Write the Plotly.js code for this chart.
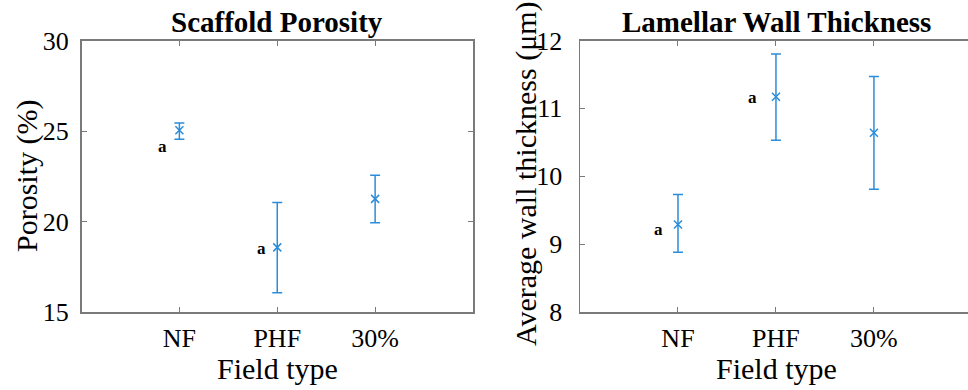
<!DOCTYPE html>
<html>
<head>
<meta charset="utf-8">
<script src="https://cdn.plot.ly/plotly-3.0.1.min.js"></script>
<style>html,body{margin:0;padding:0;background:#fff;}#chart{width:968px;height:390px;}</style>
</head>
<body>
<div id="chart"></div>
<script>
// ---- data ----
const categories = ["NF", "PHF", "30%"];
const catPos = [1, 2, 3];

const porosityMean  = [25.04, 18.57, 21.25];
const porosityUpper = [25.44, 21.05, 22.56];
const porosityLower = [24.54, 16.07, 19.93];

const wallMean  = [9.29, 11.17, 10.64];
const wallUpper = [9.73, 11.80, 11.47];
const wallLower = [8.88, 10.53, 9.81];

const porosityTicks = [15, 20, 25, 30];
const wallTicks = [8, 9, 10, 11, 12];

// ---- style ----
const blue = '#2b8cd9';
const grey = '#7a7a7a';
const serif = 'Liberation Serif';
const W = 968, H = 390;
const px = v => v / W;
const py = v => 1 - v / H;

function errTrace(mean, up, lo, xa, ya) {
  return {
    type: 'scatter', mode: 'markers', x: catPos, y: mean, xaxis: xa, yaxis: ya,
    marker: {symbol: 'x-thin-open', size: 8, color: blue, line: {color: blue, width: 1.5}},
    error_y: {type: 'data', symmetric: false,
      array: up.map((u, i) => u - mean[i]),
      arrayminus: lo.map((l, i) => mean[i] - l),
      color: blue, thickness: 1.5, width: 5},
    showlegend: false, hoverinfo: 'x+y'
  };
}

const data = [
  errTrace(porosityMean, porosityUpper, porosityLower, 'x', 'y'),
  errTrace(wallMean, wallUpper, wallLower, 'x2', 'y2')
];

const axCommon = {
  showline: true, linecolor: grey, linewidth: 1.5,
  ticks: 'inside', ticklen: 5, tickcolor: grey, tickwidth: 1,
  showgrid: false, zeroline: false, fixedrange: true,
  tickfont: {family: serif, size: 26, color: '#000'}
};

const yDom = [py(312), py(40.5)];

const layout = {
  width: W, height: H,
  margin: {l: 0, r: 0, t: 0, b: 0},
  paper_bgcolor: '#fff', plot_bgcolor: '#fff',
  showlegend: false,
  font: {family: serif},
  xaxis: Object.assign({}, axCommon, {domain: [px(81.5), px(473)], range: [0, 4],
    tickvals: catPos, ticktext: categories, mirror: 'allticks', ticklabelstandoff: 2, anchor: 'y'}),
  yaxis: Object.assign({}, axCommon, {domain: yDom, range: [15, 30],
    tickvals: porosityTicks, mirror: 'allticks', ticklabelstandoff: 6, anchor: 'x'}),
  xaxis2: Object.assign({}, axCommon, {domain: [px(580), 1], range: [0, 3.96],
    tickvals: catPos, ticktext: categories, mirror: 'allticks', ticklabelstandoff: 2, anchor: 'y2'}),
  yaxis2: Object.assign({}, axCommon, {domain: yDom, range: [8, 12],
    tickvals: wallTicks, mirror: false, ticklabelstandoff: 11, anchor: 'x2'}),
  annotations: [
    {text: '<b>Scaffold Porosity</b>', xref: 'paper', yref: 'paper', x: px(277), y: py(22),
     xanchor: 'center', yanchor: 'middle', showarrow: false, font: {family: serif, size: 29, color: '#000'}},
    {text: '<b>Lamellar Wall Thickness</b>', xref: 'paper', yref: 'paper', x: px(776), y: py(22),
     xanchor: 'center', yanchor: 'middle', showarrow: false, font: {family: serif, size: 29, color: '#000'}},
    {text: 'Field type', xref: 'paper', yref: 'paper', x: px(277), y: py(368),
     xanchor: 'center', yanchor: 'middle', showarrow: false, font: {family: serif, size: 30, color: '#000'}},
    {text: 'Field type', xref: 'paper', yref: 'paper', x: px(776), y: py(368),
     xanchor: 'center', yanchor: 'middle', showarrow: false, font: {family: serif, size: 30, color: '#000'}},
    {text: 'Porosity (%)', xref: 'paper', yref: 'paper', x: px(27), y: py(176), textangle: -90,
     xanchor: 'center', yanchor: 'middle', showarrow: false, font: {family: serif, size: 30, color: '#000'}},
    {text: 'Average wall thickness (μm)', xref: 'paper', yref: 'paper', x: px(526), y: py(174), textangle: -90,
     xanchor: 'center', yanchor: 'middle', showarrow: false, font: {family: serif, size: 30, color: '#000'}},
    {text: '<b>a</b>', xref: 'x', yref: 'y', x: 0.83, y: 24.13, showarrow: false,
     font: {family: serif, size: 17, color: '#000'}},
    {text: '<b>a</b>', xref: 'x', yref: 'y', x: 1.84, y: 18.52, showarrow: false,
     font: {family: serif, size: 17, color: '#000'}},
    {text: '<b>a</b>', xref: 'x2', yref: 'y2', x: 0.80, y: 9.22, showarrow: false,
     font: {family: serif, size: 17, color: '#000'}},
    {text: '<b>a</b>', xref: 'x2', yref: 'y2', x: 1.76, y: 11.16, showarrow: false,
     font: {family: serif, size: 17, color: '#000'}}
  ]
};

Plotly.newPlot('chart', data, layout, {staticPlot: true, displayModeBar: false});
</script>
</body>
</html>
